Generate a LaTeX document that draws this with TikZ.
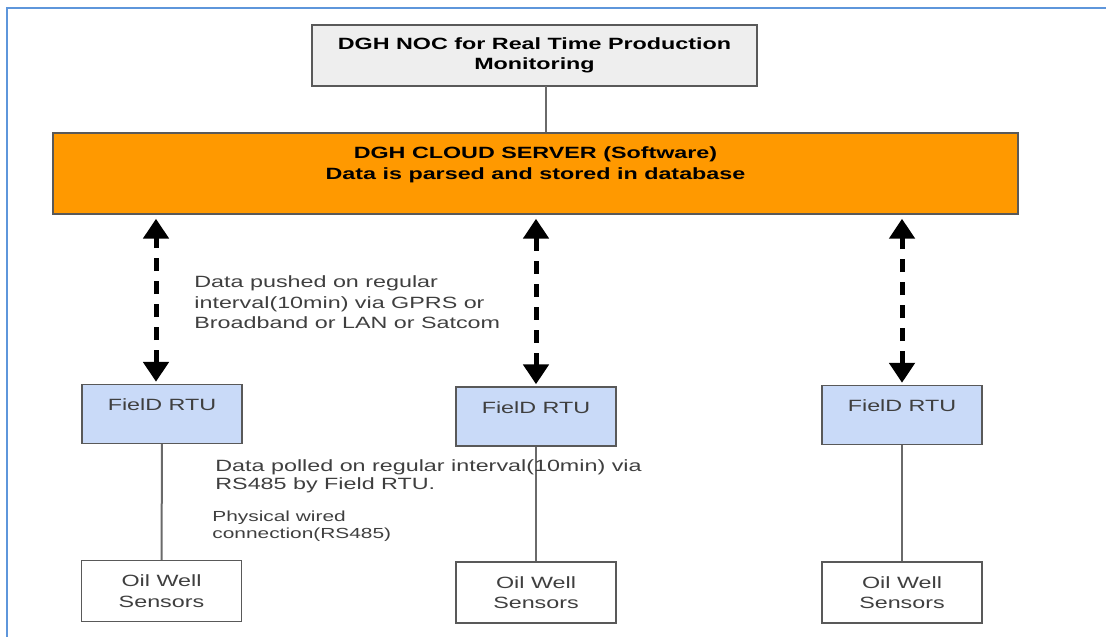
\documentclass[tikz,border=0pt]{standalone}
\usepackage{fontspec}
\setmainfont{Liberation Sans}[FakeStretch = 1.43]
\usetikzlibrary{arrows.meta,positioning}

\definecolor{frameblue}{HTML}{5E96DB}
\definecolor{boxgray}{HTML}{595959}
\definecolor{wiregray}{HTML}{6A6A6A}
\definecolor{textgray}{HTML}{3F3F3F}
\definecolor{nocgray}{HTML}{EEEEEE}
\definecolor{serverorange}{HTML}{FF9900}
\definecolor{rtublue}{HTML}{C9DAF8}

\begin{document}
\begin{tikzpicture}[x = 0.5pt, y = -0.5pt, > = {Triangle[width = 12.5pt, length = 10pt]},
    font = \fontsize{8.15}{10.2}\selectfont]
    \tikzset{
      box/.style = {draw = boxgray, line width = 0.7pt, inner sep = 0pt, align = center},
      noc/.style = {box, fill = nocgray, minimum width = 222.5pt, minimum height = 30.5pt,
        font = \fontsize{8.15}{10}\selectfont\bfseries},
      server/.style = {box, fill = serverorange, minimum width = 482.5pt, minimum height = 40.5pt,
        text depth = 10.2pt, font = \fontsize{8.15}{10.6}\selectfont\bfseries},
      rtu/.style = {box, fill = rtublue, text = textgray, minimum width = 80pt, minimum height = 29.5pt,
        text depth = 9pt},
      sensor/.style = {box, fill = white, text = textgray, minimum width = 80pt, minimum height = 30.5pt},
      note/.style = {anchor = west, align = left, inner sep = 0pt, text = textgray},
      push/.style = {<->, line width = 2.5pt, dash pattern = on 6.5pt off 5pt,
        shorten < = 1pt, shorten > = 2pt},
      wire/.style = {draw = wiregray, line width = 1pt},
      frame/.style = {draw = frameblue, line width = 1pt},
    }

    \useasboundingbox (0, 0) rectangle (1106, 637);

    % page frame
    \draw [frame] (6, 8) -- (1106, 8);
    \draw [frame] (7, 8) -- (7, 637);

    \node [noc] (noc) at (534.5, 55.5) {DGH NOC for Real Time Production\\Monitoring};
    \node [server] (server) at (535.5, 173.5) {DGH CLOUD SERVER (Software)\\Data is parsed and stored in database};

    \node [rtu] (rtu0) at (162, 414) {FielD RTU};
    \node [rtu] (rtu1) at (536, 416.5) {FielD RTU};
    \node [rtu] (rtu2) at (902, 415) {FielD RTU};

    \node [sensor] (well0) at (161.5, 591) {Oil Well\\Sensors};
    \node [sensor] (well1) at (536, 592.5) {Oil Well\\Sensors};
    \node [sensor] (well2) at (902, 592.5) {Oil Well\\Sensors};

    \coordinate (noctap) at (546, 86);
    \draw [wire] (noctap) -- (noctap |- server.north);

    \draw [push] ([xshift = -3pt] rtu0.north) -- ([xshift = -3pt] rtu0.north |- server.south);
    \draw [push] (rtu1.north) -- (rtu1.north |- server.south);
    \draw [push] (rtu2.north) -- (rtu2.north |- server.south);

    \draw [wire] (rtu0) -- (well0);
    \draw [wire] (rtu1) -- (well1);
    \draw [wire] (rtu2) -- (well2);

    \node [note, font = \fontsize{8.15}{10.2}\selectfont] (pushnote) at (194, 302.5)
      {Data pushed on regular\\interval(10min) via GPRS or\\Broadband or LAN or Satcom};
    \node [note, font = \fontsize{8.15}{8.9}\selectfont] (pollnote) at (215, 476)
      {Data polled on regular interval(10min) via\\RS485 by Field RTU.};
    \node [note, font = \fontsize{7.3}{8.5}\selectfont] (wirenote) at (212, 526.5)
      {Physical wired\\connection(RS485)};
  \end{tikzpicture}
\end{document}
